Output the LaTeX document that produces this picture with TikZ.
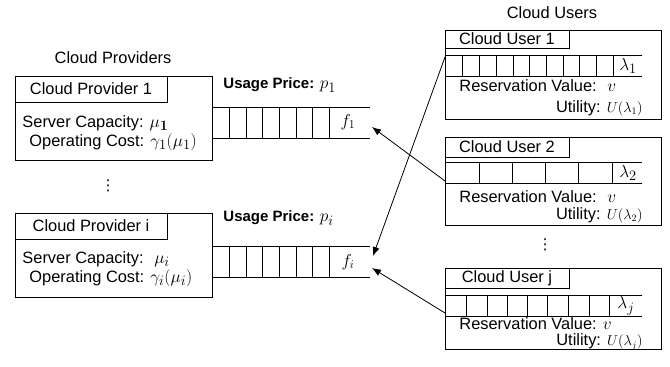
\documentclass[tikz,border=0pt]{standalone}
\usepackage[no-math]{fontspec}
\setmainfont{Liberation Sans}
\newfontfamily\dejavu{DejaVu Sans}
\usetikzlibrary{arrows.meta}
\newcommand{\smallfsz}{\fontsize{14.5}{16}\selectfont}
\newcommand{\mth}[1]{{\fontsize{19}{21}\selectfont$#1$}}
\begin{document}
\begin{tikzpicture}[x=1pt,y=-1pt, line width=0.9pt,
  txt/.style={inner sep=0pt, font=\fontsize{16.4}{19}\selectfont},
  btxt/.style={inner sep=0pt, font=\fontsize{15}{18}\selectfont\bfseries},
  dots/.style={inner sep=0pt, font=\fontsize{15}{17}\selectfont\dejavu},
  arr/.style={-{Latex[length=9pt,width=7pt]}, line width=0.8pt}]
\useasboundingbox (0,0) rectangle (670,367);

% headings
\node[txt] (hprov) at (113,58) {Cloud Providers};
\node[txt] (husers) at (552,13) {Cloud Users};
\node[dots] (dprov) at (108,186) {⋮};
\node[dots] (dusers) at (545,245) {⋮};

% ---------- Provider 1 ----------
\draw (15,76) rectangle (212,160);
\draw (15,76) rectangle (167,102);
\node[txt] (p1t) at (91,89) {Cloud Provider 1};
\node[txt, anchor=west] (p1s) at (22,123) {Server Capacity: \mth{\mu_{\mathbf{1}}}};
\node[txt, anchor=west] (p1o) at (29,142) {Operating Cost: \mth{\gamma_1(\mu_1)}};
\draw (212,107) -- (370,107) (212,138) -- (370,138);
\foreach \x in {229,246,262,279,296,312,329} \draw (\x,107) -- (\x,138);
\node[txt] (p1f) at (348,122) {$f_1$};
\node[btxt, anchor=west] (p1u) at (223,85) {Usage Price: \mdseries\mth{p_1}};
\coordinate (p1in) at (372,127);

% ---------- Provider i ----------
\draw (15,213) rectangle (212,297);
\draw (15,213) rectangle (167,239);
\node[txt] (pit) at (91,226) {Cloud Provider i};
\node[txt, anchor=west] (pis) at (22,259) {Server Capacity: \ \mth{\mu_i}};
\node[txt, anchor=west] (pio) at (29,278) {Operating Cost: \mth{\gamma_i(\mu_i)}};
\draw (212,246) -- (370,246) (212,277) -- (370,277);
\foreach \x in {229,246,262,279,296,312,329} \draw (\x,246) -- (\x,277);
\node[txt] (pif) at (348,262) {$f_i$};
\node[btxt, anchor=west] (piu) at (223,218) {Usage Price: \mdseries\mth{p_i}};
\coordinate (piin1) at (373,256);
\coordinate (piin2) at (372,268);

% ---------- User 1 ----------
\draw (445,30) rectangle (661,119);
\draw (445,30) rectangle (569,48);
\node[txt] (u1t) at (507,39) {Cloud User 1};
\draw (445,55) -- (642,55) (445,76) -- (642,76);
\foreach \x in {462,479,496,513,529,546,563,579,596,613} \draw (\x,55) -- (\x,76);
\node[txt] (u1l) at (628,66) {\mth{\lambda_1}};
\node[txt, anchor=west] (u1r) at (459,86) {Reservation Value: \ \mth{v}};
\node[txt, anchor=east] (u1u) at (643,108) {Utility: {\smallfsz$U(\lambda_1)$}};
\coordinate (u1out) at (445,57);

% ---------- User 2 ----------
\draw (445,137) rectangle (661,225);
\draw (445,137) rectangle (569,157);
\node[txt] (u2t) at (507,147) {Cloud User 2};
\draw (445,162) -- (642,162) (445,183) -- (642,183);
\foreach \x in {479,512,545,578,612} \draw (\x,162) -- (\x,183);
\node[txt] (u2l) at (628,173) {\mth{\lambda_2}};
\node[txt, anchor=west] (u2r) at (459,197) {Reservation Value: \ \mth{v}};
\node[txt, anchor=east] (u2u) at (643,215) {Utility: {\smallfsz$U(\lambda_2)$}};
\coordinate (u2out) at (445,181);

% ---------- User j ----------
\draw (445,268) rectangle (661,349);
\draw (445,268) rectangle (569,288);
\node[txt] (ujt) at (507,278) {Cloud User j};
\draw (445,295) -- (642,295) (445,316) -- (642,316);
\foreach \x in {466,487,507,527,547,568,589,609} \draw (\x,295) -- (\x,316);
\node[txt] (ujl) at (626,306) {\mth{\lambda_j}};
\node[txt, anchor=west] (ujr) at (459,324) {Reservation Value: \mth{v}};
\node[txt, anchor=east] (uju) at (643,342) {Utility: {\smallfsz$U(\lambda_j)$}};
\coordinate (ujout) at (445,313);

% ---------- arrows ----------
\draw[arr] (u2out) -- (p1in);
\draw[arr] (u1out) -- (piin1);
\draw[arr] (ujout) -- (piin2);
\end{tikzpicture}
\end{document}
